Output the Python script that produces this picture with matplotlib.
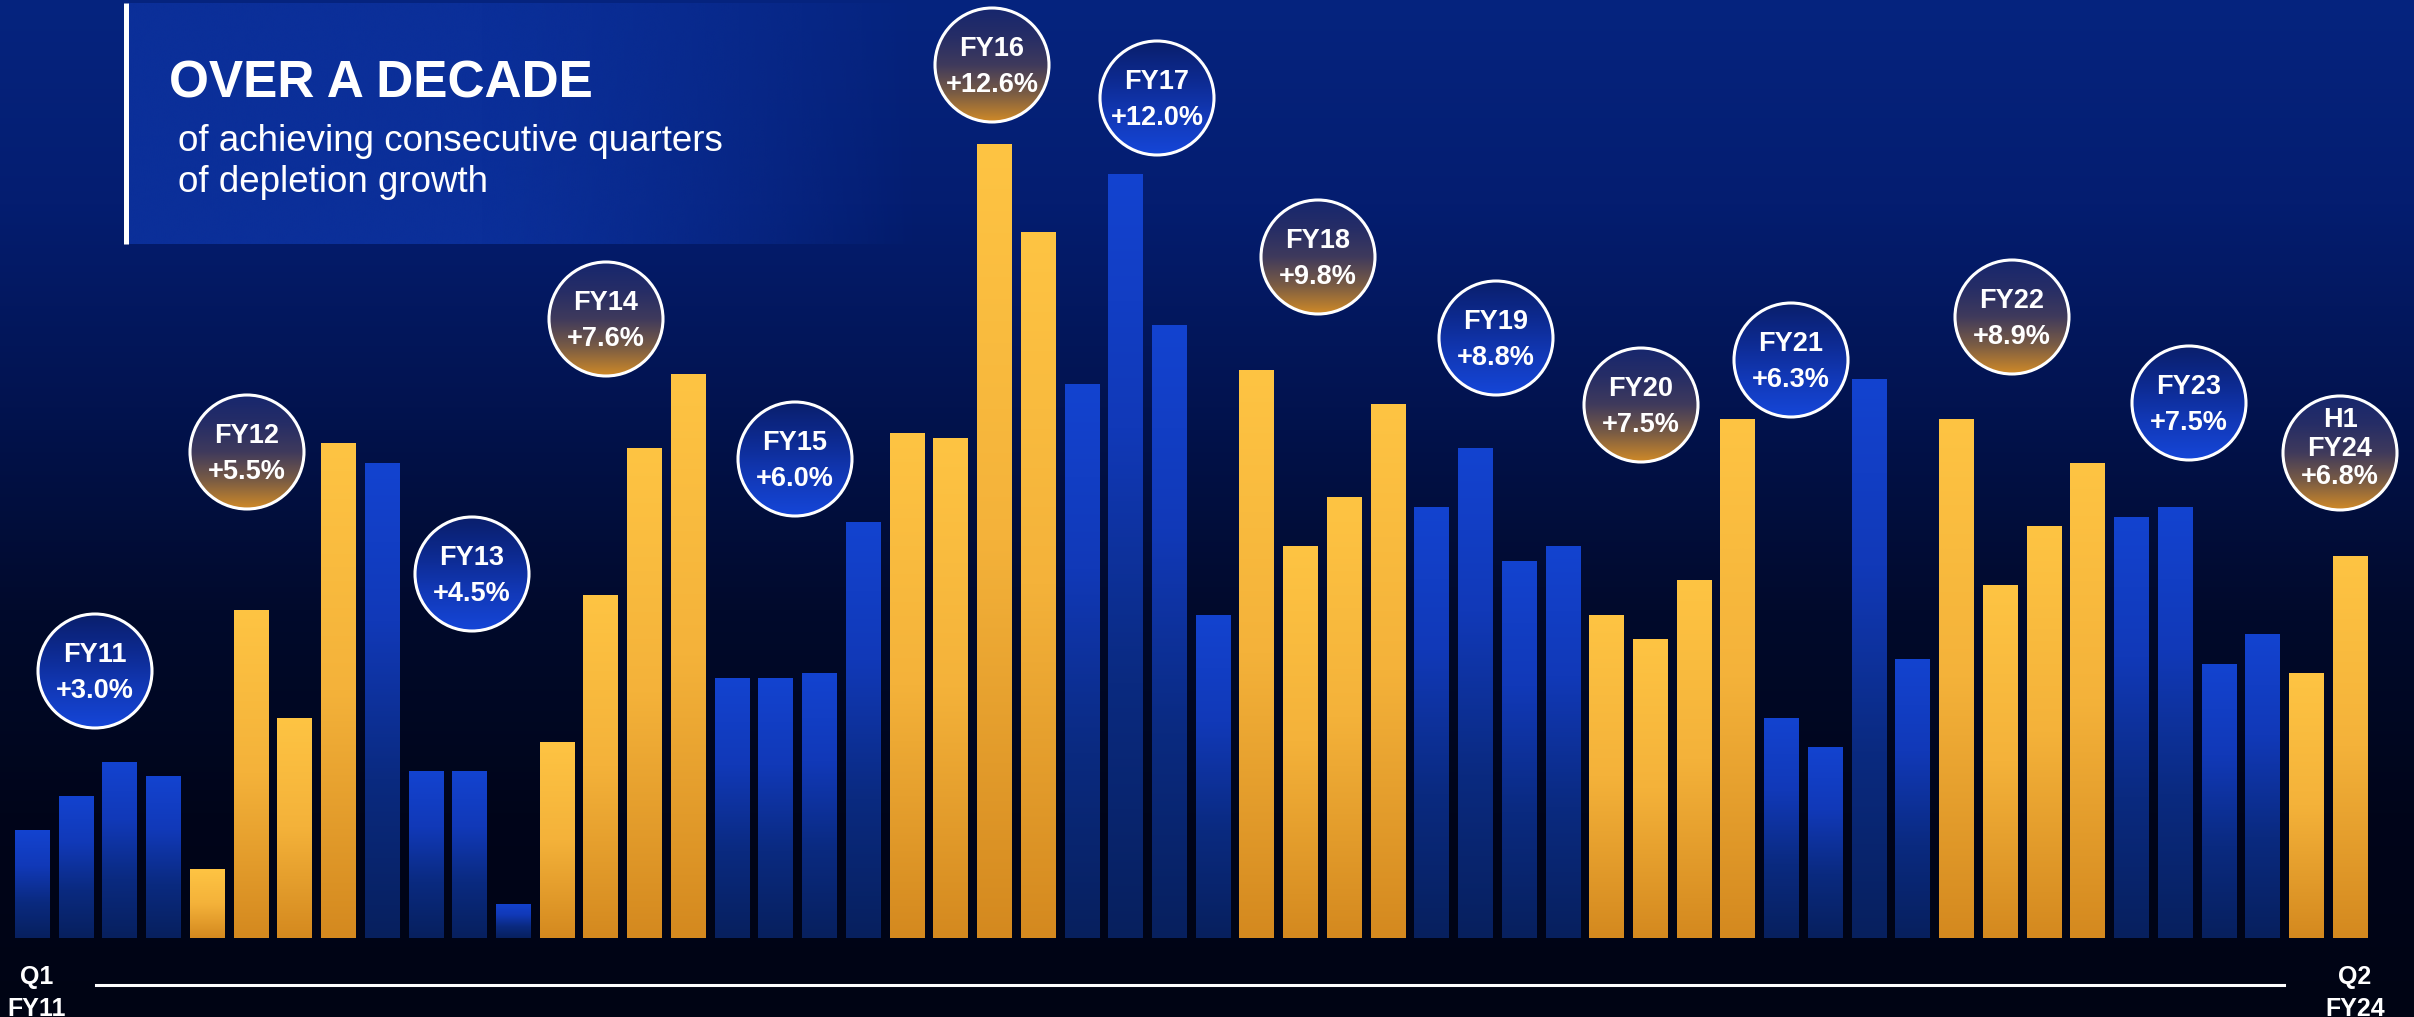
import numpy as np
import matplotlib
matplotlib.use('Agg')
import matplotlib.pyplot as plt
from matplotlib.colors import LinearSegmentedColormap, to_rgb
from matplotlib.patches import Ellipse

plt.rcParams['font.family'] = ['Liberation Sans', 'DejaVu Sans']

# --- data ---
fiscal_years = ['FY11', 'FY12', 'FY13', 'FY14', 'FY15', 'FY16', 'FY17',
                'FY18', 'FY19', 'FY20', 'FY21', 'FY22', 'FY23', 'FY24']
annual_growth = [3.0, 5.5, 4.5, 7.6, 6.0, 12.6, 12.0, 9.8, 8.8, 7.5, 6.3, 8.9, 7.5, 6.8]
quarters_in_year = [4, 4, 4, 4, 4, 4, 4, 4, 4, 4, 4, 4, 4, 2]
quarterly_growth = [2.2, 2.9, 3.6, 3.3,
                    1.4, 6.7, 4.5, 10.1,
                    9.7, 3.4, 3.4, 0.7,
                    4.0, 7.0, 10.0, 11.5,
                    5.3, 5.3, 5.4, 8.5,
                    10.3, 10.2, 16.2, 14.4,
                    11.3, 15.6, 12.5, 6.6,
                    11.6, 8.0, 9.0, 10.9,
                    8.8, 10.0, 7.7, 8.0,
                    6.6, 6.1, 7.3, 10.6,
                    4.5, 3.9, 11.4, 5.7,
                    10.6, 7.2, 8.4, 9.7,
                    8.6, 8.8, 5.6, 6.2,
                    5.4, 7.8]
start_label = ['Q1', 'FY11']
end_label = ['Q2', 'FY24']
title = 'OVER A DECADE'
subtitle = ['of achieving consecutive quarters', 'of depletion growth']

# --- layout (pixels, measured from top-left) ---
W, H = 2414, 1017
X0, STEP = 32.5, 43.73      # centre of first bar, bar pitch
BASE, UNIT = 938, 49.0      # baseline y, pixels per percentage point
BAR_W = 0.80
BADGE_R = 57
badge_xy = [(95, 671), (247, 452), (472, 574), (606, 319), (795, 459),
            (992, 65), (1157, 98), (1318, 257), (1496, 338), (1641, 405),
            (1791, 360), (2012, 317), (2189, 403), (2340, 453)]


def to_data(xp, yp):
    return (xp - X0) / STEP, (BASE - yp) / UNIT


def gradient(colors, n=256):
    cmap = LinearSegmentedColormap.from_list('g', colors)
    return cmap(np.linspace(0, 1, n))[:, None, :]


fig = plt.figure(figsize=(W / 100, H / 100), dpi=100)
ax = fig.add_axes([0, 0, 1, 1])
ax.axis('off')
xl = (to_data(0, 0)[0], to_data(W, 0)[0])
yl = (to_data(0, H)[1], to_data(0, 0)[1])

# background
bg = gradient(['#06247f', '#041d70', '#02134f', '#010a2c', '#00051a', '#000414'])
ax.imshow(bg, extent=[xl[0], xl[1], yl[0], yl[1]], origin='upper',
          aspect='auto', interpolation='bicubic', zorder=0)

# title panel fading to the right
n = 400
panel = np.zeros((1, n, 4))
panel[..., :3] = to_rgb('#0b2f99')
fade = np.clip((np.linspace(0, 1, n) - 0.45) / 0.55, 0, 1)
panel[0, :, 3] = 1 - fade ** 1.3
px0, py0 = to_data(128, 3)
px1, py1 = to_data(920, 244)
ax.imshow(panel, extent=[px0, px1, py1, py0], origin='upper', aspect='auto',
          interpolation='bicubic', zorder=1)
lx0, ly0 = to_data(125.5, 3)
lx1, ly1 = to_data(125.5, 244)
ax.plot([lx0, lx1], [ly0, ly1], color='white', lw=3.6, solid_capstyle='butt', zorder=2)

tx, ty = to_data(169, 97)
ax.text(tx, ty, title, color='white', fontsize=37, fontweight='bold',
        ha='left', va='baseline', zorder=3)
for line, yb in zip(subtitle, [151, 192]):
    sx, sy = to_data(178, yb)
    ax.text(sx, sy, line, color='white', fontsize=26.5, ha='left', va='baseline', zorder=3)

# bars, each filled with a vertical gradient
gold_grad = gradient(['#fec443', '#f4b23a', '#d4891f'])
blue_grad = gradient(['#1343d0', '#1139b8', '#0a2a80', '#07205e'])
x = np.arange(len(quarterly_growth))
year_idx = np.repeat(np.arange(len(fiscal_years)), quarters_in_year)
bars = ax.bar(x, quarterly_growth, width=BAR_W, color='#1343d0', zorder=3)
for b, yi in zip(bars, year_idx):
    grad = gold_grad if yi % 2 else blue_grad
    b.set_facecolor('none')
    bx, by = b.get_x(), b.get_y()
    im = ax.imshow(grad, extent=[bx, bx + b.get_width(), by, by + b.get_height()],
                   origin='upper', aspect='auto', interpolation='bicubic', zorder=3)
    im.set_clip_path(b)

# year badges
gold_badge = gradient(['#17276e', '#262d66', '#3f3a5c', '#7a5c44', '#d08a27'])
blue_badge = gradient(['#0a1f6c', '#0d2a90', '#1239b8', '#1546d8'])
rx, ry = BADGE_R / STEP, BADGE_R / UNIT
for i, (fy, g, (bxp, byp)) in enumerate(zip(fiscal_years, annual_growth, badge_xy)):
    cx, cy = to_data(bxp, byp)
    circ = Ellipse((cx, cy), 2 * rx, 2 * ry, facecolor='none', edgecolor='white',
                   lw=2.2, zorder=6)
    ax.add_patch(circ)
    im = ax.imshow(gold_badge if i % 2 else blue_badge,
                   extent=[cx - rx, cx + rx, cy - ry, cy + ry], origin='upper',
                   aspect='auto', interpolation='bicubic', zorder=5)
    im.set_clip_path(circ)
    if quarters_in_year[i] < 4:
        lines = ['H1', fy, f'+{g:.1f}%']
        offsets = [-26, 3, 31.5]
    else:
        lines = [fy, f'+{g:.1f}%']
        offsets = [-9, 27]
    for txt, off in zip(lines, offsets):
        _, ly = to_data(0, byp + off)
        ax.text(cx, ly, txt, color='white', fontsize=19.5, fontweight='bold',
                ha='center', va='baseline', zorder=7)

# time axis
ax0 = to_data(96, 985)
ax1 = to_data(2284, 985)
ax.plot([ax0[0], ax1[0]], [ax0[1], ax1[1]], color='white', lw=2.2, zorder=3)
for lab, xp in [(start_label, 37), (end_label, 2355)]:
    for txt, yb in zip(lab, [984, 1016]):
        lx, ly = to_data(xp, yb)
        ax.text(lx, ly, txt, color='white', fontsize=18, fontweight='bold',
                ha='center', va='baseline', zorder=3)

ax.set_xlim(*xl)
ax.set_ylim(*yl)
fig.savefig('out.png', dpi=100, facecolor='#000414')
